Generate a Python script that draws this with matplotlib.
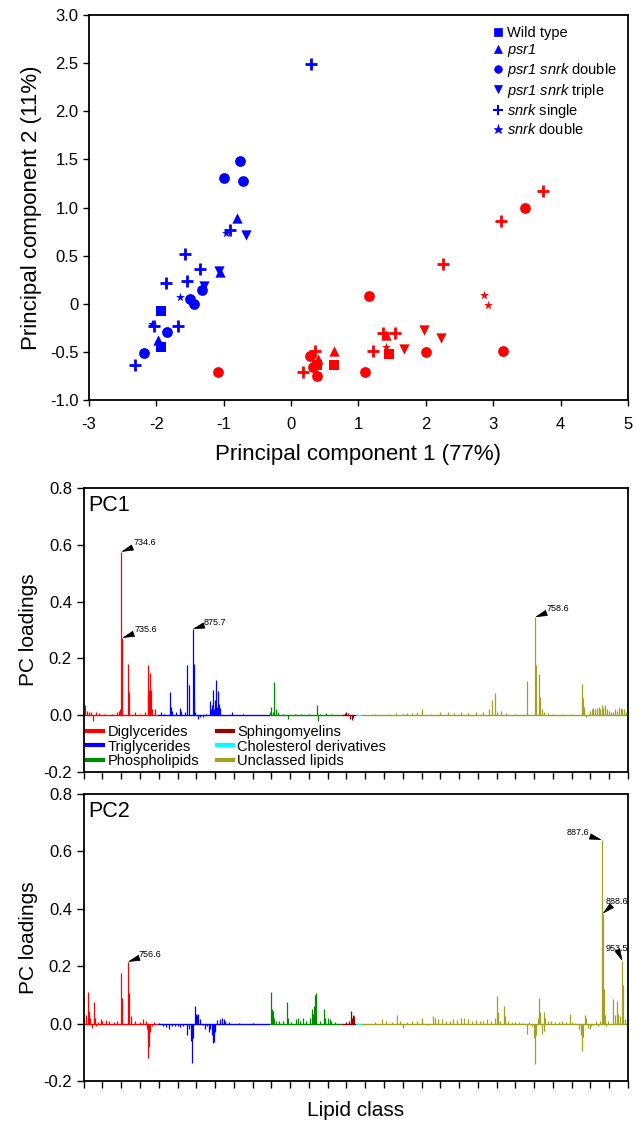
import matplotlib
matplotlib.use('Agg')
import matplotlib.pyplot as plt
import numpy as np
from matplotlib.lines import Line2D

plt.rcParams['font.family'] = ['Liberation Sans', 'DejaVu Sans']
plt.rcParams['mathtext.fontset'] = 'custom'
plt.rcParams['mathtext.rm'] = 'Liberation Sans'
plt.rcParams['mathtext.it'] = 'Liberation Sans:italic'
plt.rcParams['mathtext.sf'] = 'Liberation Sans:italic'
plt.rcParams['axes.unicode_minus'] = False

# ---- PCA scores (blue / red groups) ----
wt_blue = [(-1.93, -0.07), (-1.93, -0.45)]
psr1_blue = [(-1.98, -0.38), (-0.81, 0.89), (-1.06, 0.33)]
dbl_blue = [(-1.00, 1.31), (-0.76, 1.48), (-0.71, 1.28), (-1.50, 0.05), (-1.44, 0.00),
            (-1.32, 0.14), (-1.84, -0.29), (-2.19, -0.51)]
tri_blue = [(-0.67, 0.71), (-1.30, 0.18), (-1.07, 0.34)]
snrk1_blue = [(0.30, 2.49), (-0.90, 0.77), (-1.57, 0.52), (-1.35, 0.36), (-1.86, 0.22),
              (-1.54, 0.24), (-1.68, -0.23), (-2.04, -0.23), (-2.32, -0.64)]
snrk2_blue = [(-0.96, 0.74), (-1.65, 0.07), (-2.07, -0.21)]

wt_red = [(0.38, -0.64), (0.63, -0.64), (1.45, -0.52)]
psr1_red = [(0.40, -0.57), (0.63, -0.49), (1.41, -0.32)]
dbl_red = [(-1.08, -0.71), (1.16, 0.08), (0.28, -0.54), (0.33, -0.66), (0.38, -0.75),
           (1.10, -0.71), (2.01, -0.50), (3.14, -0.49), (3.48, 1.00)]
tri_red = [(1.67, -0.47), (1.98, -0.27), (2.22, -0.36)]
snrk1_red = [(0.18, -0.71), (0.36, -0.49), (1.22, -0.49), (1.36, -0.30), (1.55, -0.30),
             (2.25, 0.41), (3.12, 0.86), (3.74, 1.17)]
snrk2_red = [(1.41, -0.45), (2.86, 0.09), (2.93, -0.01)]

legend_labels = ['Wild type', r'$\mathsf{psr1}$', r'$\mathsf{psr1\ snrk}$ double',
                 r'$\mathsf{psr1\ snrk}$ triple', r'$\mathsf{snrk}$ single', r'$\mathsf{snrk}$ double']

# ---- loadings ----
n_lipids = 580
class_names = ['Diglycerides', 'Triglycerides', 'Phospholipids', 'Sphingomyelins',
               'Cholesterol derivatives', 'Unclassed lipids']
class_start = [0, 78, 198, 274, 290, 296]
class_end = [78, 198, 274, 290, 296, 580]
class_colors = ['#ff0000', '#0000ff', '#008a00', '#960000', '#00ffff', '#a3a020']

pc1_idx = [1, 3, 6, 8, 10, 13, 16, 22, 30, 36, 38, 39, 40, 41, 47, 48, 55, 60, 65, 68, 69, 70, 71, 72, 73, 76,
           82, 86, 92, 93, 94, 98, 103, 104, 108, 110, 112, 116, 117, 118, 119, 122, 124, 127, 130,
           135, 136, 137, 138, 139, 140, 141, 142, 143, 144, 145, 158, 170,
           199, 200, 202, 203, 205, 207, 212, 218, 225, 232, 240, 249, 250, 252, 258, 265,
           278, 280, 282, 284, 286, 287, 291, 294,
           300, 310, 325, 333, 340, 345, 350, 355, 361, 370, 380, 388, 395, 402, 410, 418, 425, 432,
           435, 438, 440, 445, 450, 460, 472, 481, 482, 485, 486, 488, 490, 495, 500, 510, 520,
           531, 532, 533, 535, 538, 540, 542, 543, 545, 547, 549, 550, 552, 553, 555, 556, 558,
           560, 562, 564, 566, 568, 570, 572, 574, 576, 578]
pc1_val = [0.035, 0.015, 0.012, 0.01, -0.02, 0.01, 0.008, 0.005, 0.005, 0.012, 0.015, 0.02, 0.575, 0.272,
           0.18, 0.08, 0.01, 0.005, 0.01, 0.07, 0.175, 0.09, 0.15, 0.09, 0.02, 0.02,
           0.01, 0.005, 0.08, 0.03, 0.015, 0.01, 0.025, 0.015, 0.01, 0.175, 0.105, 0.303, 0.18, 0.055, 0.01,
           -0.015, -0.008, -0.005, 0.005,
           0.05, 0.02, 0.035, 0.09, 0.02, 0.055, 0.125, 0.03, 0.085, 0.04, 0.025, 0.01, 0.003,
           0.01, 0.03, 0.01, 0.115, 0.02, 0.01, 0.005, -0.015, 0.005, 0.003, 0.005, 0.035, -0.02, 0.005,
           0.008, 0.004,
           0.008, 0.01, 0.008, -0.012, -0.018, -0.01, 0.003, 0.002,
           0.002, 0.003, 0.004, 0.006, 0.005, 0.008, 0.007, 0.01, 0.02, 0.005, 0.01, 0.012, 0.008, 0.01,
           0.008, 0.01, 0.012, 0.02,
           0.055, 0.078, 0.01, 0.015, 0.008, 0.005, 0.12, 0.345, 0.175, 0.145, 0.065, 0.02, 0.01, 0.008,
           0.005, 0.004, 0.005,
           0.11, 0.06, 0.03, -0.005, 0.005, 0.015, 0.02, 0.025, 0.02, 0.025, 0.03, 0.02, 0.035, 0.025,
           0.03, 0.035, 0.02, 0.015, 0.01, 0.012, 0.02, 0.015, 0.025, 0.025, 0.02, 0.02, 0.01]

pc2_idx = [0, 2, 5, 6, 7, 9, 11, 12, 13, 15, 18, 20, 24, 27, 32, 36, 40, 41, 47, 48, 50, 55, 60, 63, 66,
           67, 68, 69, 70, 71, 73, 75,
           80, 84, 88, 91, 94, 97, 100, 103, 106, 110, 112, 114, 115, 116, 119, 120, 121, 122, 124,
           127, 129, 131, 133, 135, 137, 138, 139, 140, 142, 145, 147, 149, 151, 155, 165, 180,
           200, 201, 202, 203, 205, 208, 212, 217, 218, 221, 226, 228, 230, 234, 237, 241, 243, 244,
           245, 246, 247, 248, 252, 256, 257, 260, 262, 264, 268,
           280, 283, 285, 286, 287, 288, 292,
           310, 318, 322, 328, 334, 337, 340, 345, 350, 355, 360, 361, 366, 372, 374, 378, 382, 386,
           390, 394, 398, 402, 405, 410, 414, 418, 422, 426, 430, 434, 438, 440, 441, 444, 448, 449,
           452, 456, 460, 464, 468, 472, 475, 478, 480, 481, 482, 484, 485, 486, 488, 490, 491, 492,
           495, 498, 502, 506, 510, 514, 518, 520, 524, 528, 530, 531, 532, 534, 535, 537, 539, 541,
           543, 546, 548, 550, 552, 553, 554, 555, 557, 559, 564, 566, 568, 569, 571, 574, 575, 577, 579]
pc2_val = [0.02, 0.03, 0.11, 0.045, 0.02, -0.015, 0.075, 0.02, -0.01, 0.005, 0.015, 0.01, 0.012, 0.008,
           0.006, 0.008, 0.175, 0.09, 0.215, 0.105, 0.025, 0.008, 0.005, 0.015, 0.01,
           -0.02, -0.055, -0.121, -0.08, -0.03, -0.01, 0.005,
           0.002, -0.008, -0.012, -0.02, -0.01, -0.01, -0.008, -0.012, -0.01, -0.04, -0.02, -0.06,
           -0.139, -0.05, 0.06, 0.035, 0.03, 0.035, 0.015,
           -0.005, -0.02, -0.01, -0.03, -0.02, -0.04, -0.067, -0.065, -0.03, 0.012, 0.015, 0.02, 0.015,
           0.01, 0.005, 0.002, 0.002,
           0.11, 0.05, 0.045, 0.02, 0.01, 0.01, 0.008, 0.075, 0.02, 0.005, 0.015, 0.02, 0.01, 0.02,
           0.01, 0.02, 0.05, 0.035, 0.06, 0.1, 0.105, 0.03, 0.008, 0.05, 0.02, 0.02, 0.015, 0.01, 0.005,
           0.005, 0.01, 0.045, 0.02, 0.03, 0.025, 0.003,
           0.005, 0.015, 0.008, 0.005, 0.03, 0.01, -0.015, 0.005, 0.008, 0.01, 0.02, 0.01, -0.005,
           0.025, 0.02, 0.015, 0.015, 0.01, 0.01, 0.015, 0.012, 0.02, 0.018, 0.015, 0.01, 0.012, 0.01,
           0.008, 0.015, 0.01, 0.02, 0.095, 0.04, 0.01, 0.06, 0.025,
           0.008, 0.005, 0.004, 0.005, 0.003, -0.035, 0.005, -0.01, -0.05, -0.141, -0.04, 0.02, 0.09,
           0.04, -0.035, 0.04, -0.025, 0.02,
           0.01, 0.008, 0.005, 0.005, 0.008, 0.005, 0.035, 0.005, 0.002, -0.02, -0.04, -0.097, -0.045,
           0.03, 0.02, -0.015, -0.02, -0.01,
           -0.005, 0.01, -0.008, 0.01, 0.64, 0.383, 0.12, 0.03, -0.01, 0.01, 0.085, 0.03, 0.08, 0.035,
           0.025, 0.218, 0.135, 0.015, 0.005]

# peak labels: (text, lipid index, offset x pt, offset y pt, alignment)
pc1_labels = [('734.6', 40, 9, 6.5, 'left'), ('735.6', 41, 9, 6, 'left'),
              ('875.7', 116, 8, 5, 'left'), ('758.6', 481, 8, 6, 'left')]
pc2_labels = [('756.6', 47, 7.5, 5.5, 'left'), ('887.6', 552, -9, 5, 'right'),
              ('888.6', 553, 2, 9, 'left'), ('953.5', 574, 4, 9, 'right')]

fig = plt.figure(figsize=(6.37, 11.23), dpi=100)

# ---------------- scatter ----------------
ax = fig.add_axes([0.1397, 0.6438, 0.846, 0.3428])
markers = ['s', '^', 'o', 'v', '+', '*']
sizes = [45, 55, 60, 55, 70, 45]
blue_groups = [wt_blue, psr1_blue, dbl_blue, tri_blue, snrk1_blue, snrk2_blue]
red_groups = [wt_red, psr1_red, dbl_red, tri_red, snrk1_red, snrk2_red]
for m, s, grp in zip(markers, sizes, blue_groups):
    pts = np.array(grp)
    lw = 2 if m == '+' else 0
    ax.scatter(pts[:, 0], pts[:, 1], marker=m, s=s, color='#0000ff', linewidths=lw, zorder=3)
for m, s, grp in zip(markers, sizes, red_groups):
    pts = np.array(grp)
    lw = 2 if m == '+' else 0
    ax.scatter(pts[:, 0], pts[:, 1], marker=m, s=s, color='#ff0000', linewidths=lw, zorder=3)

ax.set_xlim(-3, 5)
ax.set_ylim(-1.0, 3.0)
ax.set_xticks(np.arange(-3, 6, 1))
ax.set_yticks(np.arange(-1.0, 3.01, 0.5))
ax.set_yticklabels(['-1.0', '-0.5', '0', '0.5', '1.0', '1.5', '2.0', '2.5', '3.0'])
ax.set_xlabel('Principal component 1 (77%)', fontsize=16, labelpad=9)
ax.set_ylabel('Principal component 2 (11%)', fontsize=16, labelpad=6)
ax.tick_params(direction='out', length=4, width=1, labelsize=12)
ax.tick_params(axis='x', pad=8)
for sp in ax.spines.values():
    sp.set_linewidth(1.3)

handles = []
for m in markers:
    handles.append(Line2D([], [], marker=m, linestyle='none', color='#0000ff',
                          markersize=5.5 if m not in ['+', '*'] else 6.5,
                          markeredgewidth=1.5 if m == '+' else 0.5))
ax.legend(handles, legend_labels, loc='upper right', frameon=False, fontsize=10.5,
          handletextpad=0.1, labelspacing=0.15, borderaxespad=0.35, handlelength=1.0)

# ---------------- loadings ----------------
def draw_loadings(ax, idx, vals, labels, title):
    values = np.zeros(n_lipids)
    values[idx] = vals
    x = np.arange(n_lipids)
    for s, e, c in zip(class_start, class_end, class_colors):
        ax.hlines(0, s, e, color=c, lw=1.0, zorder=2)
        ax.vlines(x[s:e], 0, values[s:e], color=c, lw=0.9, zorder=2)
    for txt, i, dx, dy, ha in labels:
        ax.annotate(txt, xy=(i, values[i]), xytext=(dx, dy), textcoords='offset points',
                    fontsize=6.5, ha=ha, va='center',
                    arrowprops=dict(arrowstyle='-|>,head_length=1.1,head_width=0.28', color='k',
                                    lw=0.5, mutation_scale=7, shrinkA=1, shrinkB=0))
    ax.set_xlim(0, n_lipids)
    ax.set_ylim(-0.2, 0.8)
    ax.set_xticks(np.arange(0, n_lipids + 1, 20))
    ax.set_xticklabels([])
    ax.set_yticks([-0.2, 0.0, 0.2, 0.4, 0.6, 0.8])
    ax.set_yticklabels(['-0.2', '0.0', '0.2', '0.4', '0.6', '0.8'])
    ax.tick_params(direction='out', length=5, width=1, labelsize=12)
    ax.set_ylabel('PC loadings', fontsize=15, labelpad=4)
    ax.text(0.008, 0.975, title, transform=ax.transAxes, fontsize=15.5, va='top', ha='left')
    for sp in ax.spines.values():
        sp.set_linewidth(1.3)

ax1 = fig.add_axes([0.1314, 0.3126, 0.8545, 0.2529])
draw_loadings(ax1, pc1_idx, pc1_val, pc1_labels, 'PC1')
leg_handles = [Line2D([], [], color=c, lw=3) for c in class_colors]
ax1.legend(leg_handles, class_names, loc='lower left', ncol=2, frameon=False, fontsize=10.5,
           handlelength=1.1, handletextpad=0.3, labelspacing=0.05, columnspacing=1.2,
           borderaxespad=0.05, borderpad=0.2)

ax2 = fig.add_axes([0.1314, 0.0374, 0.8545, 0.2556])
draw_loadings(ax2, pc2_idx, pc2_val, pc2_labels, 'PC2')
ax2.set_xlabel('Lipid class', fontsize=15, labelpad=6)

fig.savefig('out.png', dpi=100)
